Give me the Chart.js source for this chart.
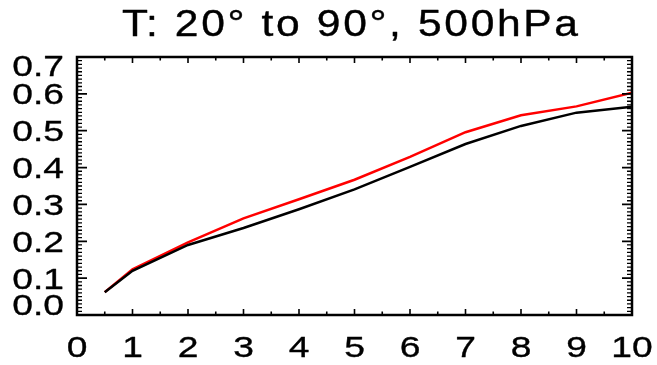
<!DOCTYPE html>
<html>
<head>
<meta charset="utf-8">
<script src="https://cdn.jsdelivr.net/npm/chart.js@4/dist/chart.umd.min.js"></script>
<style>
  html, body { margin: 0; padding: 0; background: #ffffff; }
  canvas { display: block; }
</style>
</head>
<body>
<canvas id="c" width="657" height="365"></canvas>
<script>
// ---- data ----
const titleText = "T: 20\u00b0 to 90\u00b0, 500hPa";
const xValues = [0.5, 1, 2, 3, 4, 5, 6, 7, 8, 9, 10];
const blackSeries = [0.062, 0.120, 0.190, 0.236, 0.287, 0.341, 0.402, 0.464, 0.513, 0.549, 0.565];
const redSeries   = [0.062, 0.124, 0.197, 0.262, 0.314, 0.367, 0.429, 0.496, 0.542, 0.566, 0.603];
const xTickValues = [0, 1, 2, 3, 4, 5, 6, 7, 8, 9, 10];
const xTickLabels = ["0", "1", "2", "3", "4", "5", "6", "7", "8", "9", "10"];
const yTickValues = [0.0, 0.1, 0.2, 0.3, 0.4, 0.5, 0.6, 0.7];
const yTickLabels = ["0.0", "0.1", "0.2", "0.3", "0.4", "0.5", "0.6", "0.7"];

const FONT = '"Liberation Sans", Arial, Helvetica, sans-serif';

function stretchedText(ctx, text, x, y, align, size, sx, spacing, boldW) {
  ctx.save();
  ctx.translate(x, y);
  ctx.scale(sx, 1);
  ctx.font = size + 'px ' + FONT;
  if (spacing !== undefined) ctx.letterSpacing = spacing + 'px';
  ctx.textAlign = align;
  ctx.textBaseline = 'alphabetic';
  ctx.fillStyle = '#000000';
  ctx.fillText(text, 0, 0);
  if (boldW) {
    ctx.strokeStyle = '#000000';
    ctx.lineWidth = boldW;
    ctx.lineJoin = 'round';
    ctx.strokeText(text, 0, 0);
  }
  ctx.restore();
}

const framePlugin = {
  id: 'idlFrame',
  afterDatasetsDraw(chart) {
    const ctx = chart.ctx;
    const a = chart.chartArea;
    const xs = chart.scales.x, ys = chart.scales.y;
    ctx.save();
    ctx.strokeStyle = '#000000';
    ctx.lineCap = 'butt';

    // y minor ticks (every 0.01) on left and right
    ctx.lineWidth = 1.3;
    ctx.beginPath();
    for (let i = 0; i <= 70; i++) {
      if (i % 10 === 0) continue;
      const py = ys.getPixelForValue(i / 100);
      ctx.moveTo(a.left, py); ctx.lineTo(a.left + 5, py);
      ctx.moveTo(a.right, py); ctx.lineTo(a.right - 5, py);
    }
    ctx.stroke();
    // y major ticks
    ctx.lineWidth = 1.8;
    ctx.beginPath();
    yTickValues.forEach(v => {
      const py = ys.getPixelForValue(v);
      ctx.moveTo(a.left, py); ctx.lineTo(a.left + 10, py);
      ctx.moveTo(a.right, py); ctx.lineTo(a.right - 10, py);
    });
    ctx.stroke();
    // x ticks (major at integers, minor at halves) top and bottom
    ctx.lineWidth = 1.6;
    ctx.beginPath();
    for (let i = 0; i <= 20; i++) {
      const px = xs.getPixelForValue(i / 2);
      const len = (i % 2 === 0) ? 6 : 3.5;
      ctx.moveTo(px, a.bottom); ctx.lineTo(px, a.bottom - len);
      ctx.moveTo(px, a.top); ctx.lineTo(px, a.top + len);
    }
    ctx.stroke();

    // frame
    ctx.lineWidth = 2.5;
    ctx.strokeRect(a.left, a.top, a.right - a.left, a.bottom - a.top);
    ctx.restore();

    // y tick labels
    yTickValues.forEach((v, i) => {
      let base = ys.getPixelForValue(v) + 10.5;
      if (i === 0) base = a.bottom;
      if (i === yTickValues.length - 1) base = a.top + 19;
      stretchedText(ctx, yTickLabels[i], 64, base, 'right', 30, 1.24, undefined, 0.35);
    });
    // x tick labels
    xTickValues.forEach((v, i) => {
      stretchedText(ctx, xTickLabels[i], xs.getPixelForValue(v), 357, 'center', 30, 1.24, undefined, 0.35);
    });
    // title
    stretchedText(ctx, titleText, 122, 36, 'left', 37, 1.15, 2.3, 0.4);
  }
};

const toPoints = (xsArr, ysArr) => xsArr.map((x, i) => ({ x: x, y: ysArr[i] }));

new Chart(document.getElementById('c'), {
  type: 'line',
  data: {
    datasets: [
      {
        label: 'black',
        data: toPoints(xValues, blackSeries),
        borderColor: '#000000',
        borderWidth: 2.5,
        pointRadius: 0,
        tension: 0,
        fill: false
      },
      {
        label: 'red',
        data: toPoints(xValues, redSeries),
        borderColor: '#ff0000',
        borderWidth: 2.5,
        pointRadius: 0,
        tension: 0,
        fill: false
      }
    ]
  },
  options: {
    responsive: false,
    animation: false,
    devicePixelRatio: 1,
    layout: { padding: { left: 77, right: 25, top: 57, bottom: 50 } },
    plugins: {
      legend: { display: false },
      title: { display: false },
      tooltip: { enabled: false }
    },
    scales: {
      x: { type: 'linear', min: 0, max: 10, display: false },
      y: { type: 'linear', min: 0, max: 0.7, display: false }
    }
  },
  plugins: [framePlugin]
});
</script>
</body>
</html>
